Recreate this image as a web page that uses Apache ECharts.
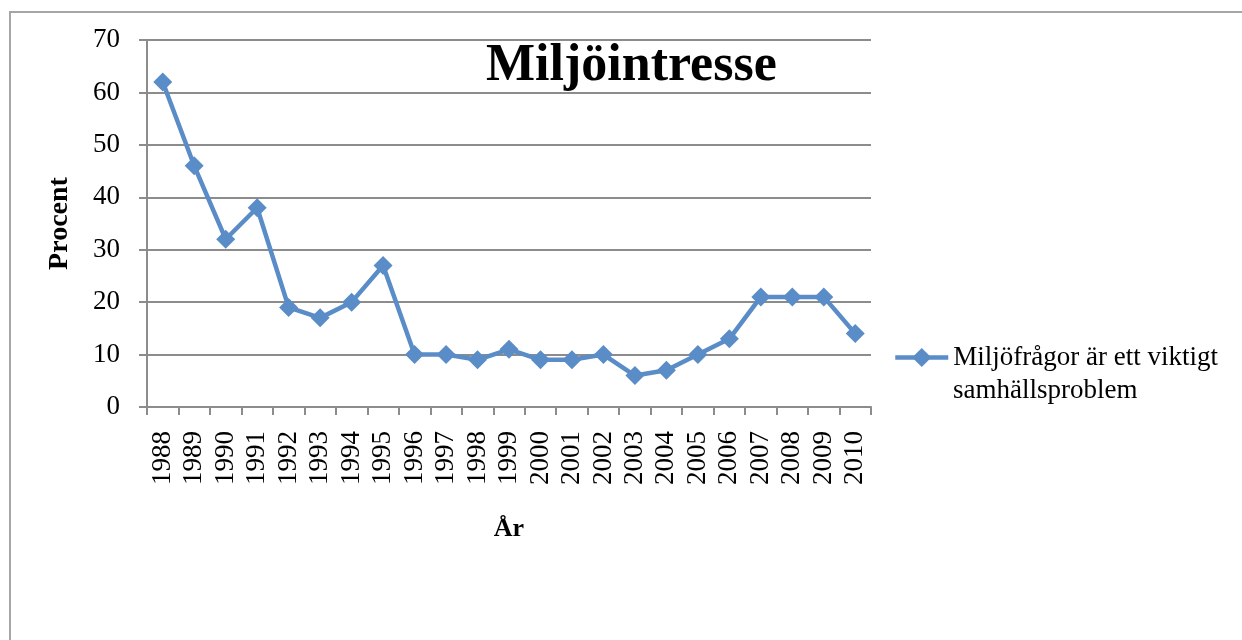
<!DOCTYPE html>
<html><head><meta charset="utf-8">
<script src="https://cdn.jsdelivr.net/npm/echarts@6/dist/echarts.min.js"></script>
<style>
html,body{margin:0;padding:0;background:#fff;overflow:hidden}
#frame{position:absolute;left:9px;top:11px;width:1300px;height:700px;border:2px solid #a6a6a6;box-sizing:border-box}
#c{position:absolute;left:0;top:0;width:1242px;height:640px}
</style></head>
<body>
<div id="frame"></div>
<div id="c"></div>
<script>
const years = ['1988','1989','1990','1991','1992','1993','1994','1995','1996','1997','1998','1999','2000','2001','2002','2003','2004','2005','2006','2007','2008','2009','2010'];
const values = [62,46,32,38,19,17,20,27,10,10,9,11,9,9,10,6,7,10,13,21,21,21,14];
const seriesLines = ['Miljöfrågor är ett viktigt','samhällsproblem'];
const seriesName = seriesLines.join(' ');
const titleText = 'Miljöintresse';
const xName = 'År';
const yName = 'Procent';
const yTicks = {min:0, max:70, interval:10};

const font = '"Liberation Serif","DejaVu Serif",serif';
const col = '#5a8dc8';
const chart = echarts.init(document.getElementById('c'), null, {renderer:'canvas'});
chart.setOption({
  backgroundColor:'transparent',
  animation:false,
  title:{text:titleText,left:478,top:39,padding:[2,8,2,8],
    textStyle:{fontFamily:font,fontSize:52,fontWeight:'bold',color:'#000'}},
  grid:{left:147,right:371,top:40,bottom:233,containLabel:false},
  legend:{left:893,top:344,padding:0,itemWidth:53,itemHeight:24,itemGap:10,
    lineStyle:{width:4.5,color:col},
    itemStyle:{color:col},
    formatter:()=>seriesLines[0],
    textStyle:{fontFamily:font,fontSize:27,color:'#000'},
    data:[{name:seriesName}]},
  graphic:[{type:'text',left:953,top:377,
    style:{text:seriesLines[1],font:'27px "Liberation Serif","DejaVu Serif",serif',fill:'#000'}}],
  xAxis:{type:'category',data:years,boundaryGap:true,
    name:xName,nameLocation:'middle',nameGap:109,
    nameTextStyle:{fontFamily:font,fontSize:26,fontWeight:'bold',color:'#000'},
    axisLine:{lineStyle:{color:'#8c8c8c',width:2}},
    axisTick:{show:true,interval:0,length:8,lineStyle:{color:'#8c8c8c',width:2}},
    axisLabel:{rotate:90,interval:0,fontFamily:font,fontSize:27,color:'#000',margin:24},
    splitLine:{show:false}},
  yAxis:{type:'value',min:yTicks.min,max:yTicks.max,interval:yTicks.interval,
    name:yName,nameLocation:'middle',nameGap:73,nameRotate:90,
    nameTextStyle:{fontFamily:font,fontSize:28,fontWeight:'bold',color:'#000'},
    axisLine:{show:true,lineStyle:{color:'#8c8c8c',width:2}},
    axisTick:{show:true,length:8,lineStyle:{color:'#8c8c8c',width:2}},
    axisLabel:{fontFamily:font,fontSize:27,color:'#000',margin:27},
    splitLine:{lineStyle:{color:'#8c8c8c',width:2}}},
  series:[{name:seriesName,type:'line',data:values,
    symbol:'diamond',symbolSize:19,
    lineStyle:{color:col,width:4.5},
    itemStyle:{color:col}}]
});
</script>
</body></html>
